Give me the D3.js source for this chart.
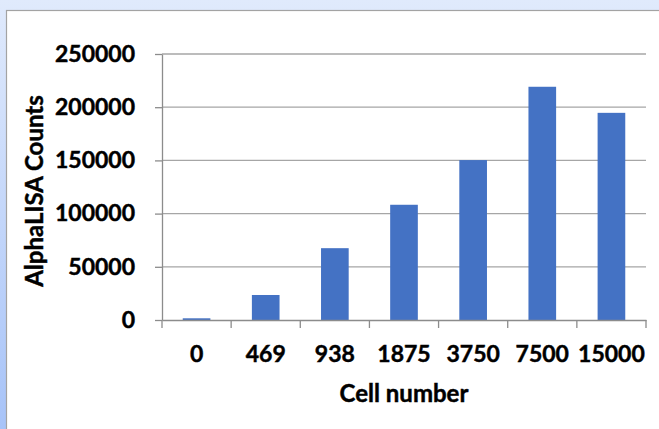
<!DOCTYPE html>
<html lang="en">
<head>
    <meta charset="UTF-8">
    <title>AlphaLISA Counts by Cell number</title>
    <script src="https://d3js.org/d3.v7.min.js"></script>
    <style>
        html, body {
            margin: 0;
            padding: 0;
            overflow: hidden;
        }
        text {
            font-family: Lato, "Open Sans", sans-serif;
            font-weight: 700;
            fill: #000;
            stroke: #000;
            stroke-width: 0.45px;
        }
        .grid line {
            stroke: #a6a6a6;
            stroke-width: 1.3;
        }
        .axis path, .axis line {
            stroke: #8c8c8c;
            stroke-width: 1.3;
        }
    </style>
</head>
<body>
    <svg id="chart" width="659" height="429"></svg>

    <script>
        // data
        const cellNumbers = ["0", "469", "938", "1875", "3750", "7500", "15000"];
        const counts = [1600, 23500, 67500, 108300, 150300, 219200, 194700];
        const yTicks = [0, 50000, 100000, 150000, 200000, 250000];

        const svg = d3.select("#chart");
        const margin = { top: 54, right: 13, bottom: 109, left: 162 };
        const width = +svg.attr("width") - margin.left - margin.right;
        const height = +svg.attr("height") - margin.top - margin.bottom;
        const tickFont = 23;
        const titleFont = 24;

        // backdrop: blue gradient with a white chart panel on top
        const defs = svg.append("defs");
        const grad = defs.append("linearGradient")
            .attr("id", "bg")
            .attr("x1", 0).attr("y1", 0)
            .attr("x2", 0).attr("y2", 1);
        grad.append("stop").attr("offset", "0%").attr("stop-color", "#e0eafc");
        grad.append("stop").attr("offset", "100%").attr("stop-color", "#a7c3f8");

        svg.append("rect")
            .attr("width", 659).attr("height", 429)
            .attr("fill", "url(#bg)");

        svg.append("rect")
            .attr("x", 6.5).attr("y", 10.5)
            .attr("width", 670).attr("height", 440)
            .attr("fill", "#ffffff")
            .attr("stroke", "#a3a3a3")
            .attr("stroke-width", 1.2);

        const x = d3.scaleBand()
            .domain(cellNumbers)
            .range([0, width])
            .paddingInner(0.6)
            .paddingOuter(0.3);

        const y = d3.scaleLinear()
            .domain([0, 250000])
            .range([height, 0]);

        const g = svg.append("g")
            .attr("transform", `translate(${margin.left},${margin.top})`);

        // horizontal gridlines
        g.append("g")
            .attr("class", "grid")
            .selectAll("line")
            .data(yTicks.slice(1))
            .enter().append("line")
            .attr("x1", 0)
            .attr("x2", width)
            .attr("y1", d => y(d))
            .attr("y2", d => y(d));

        // bars
        g.selectAll(".bar")
            .data(counts)
            .enter().append("rect")
            .attr("class", "bar")
            .attr("x", (d, i) => x(cellNumbers[i]))
            .attr("y", d => y(d))
            .attr("width", x.bandwidth())
            .attr("height", d => height - y(d))
            .attr("fill", "#4472c4");

        // y axis
        const yAxis = g.append("g")
            .attr("class", "axis")
            .call(d3.axisLeft(y)
                .tickValues(yTicks)
                .tickFormat(d3.format("d"))
                .tickSizeInner(7)
                .tickSizeOuter(0)
                .tickPadding(20));
        yAxis.selectAll("text")
            .style("font-size", tickFont + "px");

        // x axis: labels centered on categories, ticks at category boundaries
        const xAxis = g.append("g")
            .attr("class", "axis")
            .attr("transform", `translate(0,${height})`)
            .call(d3.axisBottom(x)
                .tickSize(0)
                .tickPadding(42 - 0.71 * tickFont));
        xAxis.selectAll("text")
            .style("font-size", tickFont + "px");

        const edges = d3.scaleLinear()
            .domain([0, cellNumbers.length])
            .range([0, width]);

        xAxis.selectAll(".edge")
            .data(d3.range(cellNumbers.length + 1))
            .enter().append("line")
            .attr("class", "edge")
            .attr("x1", d => edges(d))
            .attr("x2", d => edges(d))
            .attr("y1", 0)
            .attr("y2", 8);

        // axis titles
        svg.append("text")
            .attr("x", margin.left + width / 2)
            .attr("y", 402)
            .attr("text-anchor", "middle")
            .style("font-size", titleFont + "px")
            .text("Cell number");

        svg.append("text")
            .attr("transform", "translate(43,191) rotate(-90)")
            .attr("text-anchor", "middle")
            .style("font-size", titleFont + "px")
            .text("AlphaLISA Counts");
    </script>
</body>
</html>
